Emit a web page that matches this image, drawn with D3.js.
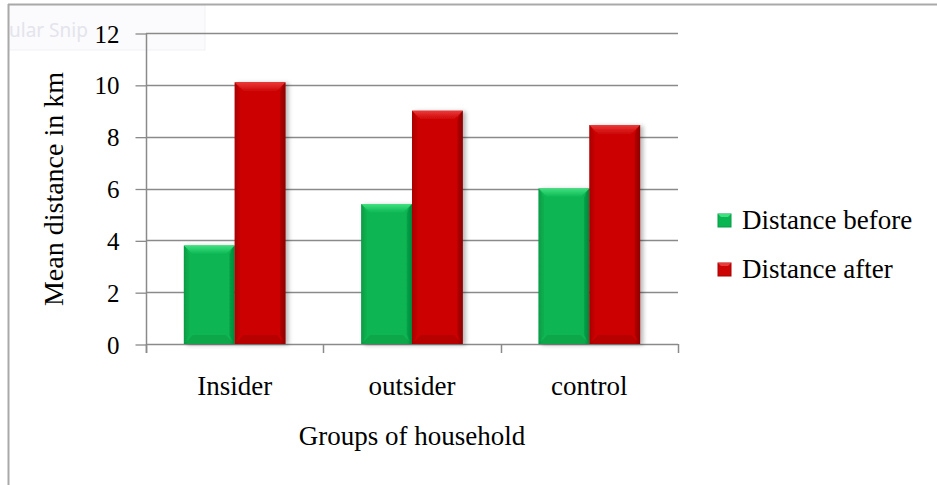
<!DOCTYPE html>
<html>
<head>
<meta charset="utf-8">
<script src="https://cdn.jsdelivr.net/npm/d3@7"></script>
<style>
  html, body { margin: 0; padding: 0; background: #fff; }
  svg { display: block; }
  text { font-family: "Liberation Serif", "Times New Roman", Times, serif; fill: #000; }
</style>
</head>
<body>
<svg id="chart" width="937" height="485"></svg>
<script>
// Mean distance (km) per household group, before and after
const groups = ["Insider", "outsider", "control"];
const seriesNames = ["Distance before", "Distance after"];
const distanceBefore = [3.8, 5.4, 6.0];
const distanceAfter = [10.1, 9.0, 8.45];
const yTicks = [0, 2, 4, 6, 8, 10, 12];

const seriesValues = [distanceBefore, distanceAfter];
const palette = {
  "Distance before": { main: "#0ab652", light: "#3fe07f", dark: "#05893c", edge: "#079a45" },
  "Distance after":  { main: "#cc0404", light: "#ec3a3a", dark: "#8e0202", edge: "#a80303" }
};

const svg = d3.select("#chart");
const defs = svg.append("defs");

// soft shadow cast to the right of each bar
const shadow = defs.append("filter").attr("id", "barShadow")
  .attr("x", "-20%").attr("y", "-5%").attr("width", "150%").attr("height", "110%");
shadow.append("feDropShadow").attr("dx", 3).attr("dy", 1)
  .attr("stdDeviation", 2).attr("flood-color", "#000").attr("flood-opacity", 0.28);

// horizontal shading gradient for bar faces, vertical one for the top bevel
seriesNames.forEach((s, i) => {
  const c = palette[s];
  const g = defs.append("linearGradient").attr("id", "face" + i)
    .attr("x1", "0%").attr("x2", "100%").attr("y1", "0%").attr("y2", "0%");
  g.append("stop").attr("offset", "0%").attr("stop-color", c.edge);
  g.append("stop").attr("offset", "8%").attr("stop-color", c.main);
  g.append("stop").attr("offset", "90%").attr("stop-color", c.main);
  g.append("stop").attr("offset", "100%").attr("stop-color", c.dark);
  const t = defs.append("linearGradient").attr("id", "top" + i)
    .attr("x1", "0%").attr("x2", "0%").attr("y1", "0%").attr("y2", "100%");
  t.append("stop").attr("offset", "0%").attr("stop-color", c.light);
  t.append("stop").attr("offset", "100%").attr("stop-color", c.main);
});

// snipping-tool caption box in the corner
const snip = defs.append("clipPath").attr("id", "snipClip");
snip.append("rect").attr("x", 9).attr("y", 5).attr("width", 196).attr("height", 45);
svg.append("rect").attr("x", 9).attr("y", 5).attr("width", 196).attr("height", 45)
  .attr("fill", "#fbfbfd").attr("stroke", "#f1f1f5");
svg.append("text").attr("clip-path", "url(#snipClip)")
  .attr("x", 9).attr("y", 37)
  .style("font-family", "'Noto Sans', 'DejaVu Sans', sans-serif")
  .style("font-size", "19px").style("fill", "#e4e4ec")
  .text("ular Snip");

// outer frame (top and left edges)
svg.append("line").attr("x1", 8).attr("x2", 937).attr("y1", 4.5).attr("y2", 4.5)
  .attr("stroke", "#a9a9a9").attr("stroke-width", 2);
svg.append("line").attr("x1", 8.5).attr("x2", 8.5).attr("y1", 4).attr("y2", 485)
  .attr("stroke", "#a9a9a9").attr("stroke-width", 2);

// scales
const x0 = d3.scaleBand().domain(groups).range([146, 678]).paddingInner(0).paddingOuter(0);
const x1 = d3.scaleBand().domain(seriesNames).range([0, x0.bandwidth()])
  .paddingInner(0).paddingOuter(0.745);
const y = d3.scaleLinear().domain([0, 12]).range([344, 33]);

const plotLeft = x0.range()[0], plotRight = x0.range()[1];
const axisColor = "#8a8a8a";

// horizontal gridlines
svg.append("g").selectAll("line").data(yTicks.filter(t => t > 0)).join("line")
  .attr("x1", plotLeft).attr("x2", plotRight)
  .attr("y1", d => Math.round(y(d)) + 0.5).attr("y2", d => Math.round(y(d)) + 0.5)
  .attr("stroke", axisColor).attr("stroke-width", 1.3);

// y axis
const yAxis = d3.axisLeft(y).tickValues(yTicks).tickSize(11).tickPadding(16)
  .tickFormat(d3.format("d"));
const yg = svg.append("g").attr("transform", `translate(${plotLeft + 0.5},0.5)`).call(yAxis);
yg.attr("font-family", null);
yg.select(".domain").remove();
yg.selectAll(".tick line").attr("stroke", axisColor).attr("stroke-width", 1.3);
yg.selectAll(".tick text").style("font-family", "'Liberation Serif', 'Times New Roman', serif")
  .style("font-size", "25px").attr("fill", "#000").attr("dy", "0.34em");
svg.append("line").attr("x1", plotLeft + 0.5).attr("x2", plotLeft + 0.5)
  .attr("y1", y(12)).attr("y2", y(0) + 9)
  .attr("stroke", axisColor).attr("stroke-width", 1.5);

// x axis with ticks at group boundaries
const boundaries = groups.map(g => x0(g)).concat([plotRight]);
svg.append("line").attr("x1", plotLeft).attr("x2", plotRight)
  .attr("y1", Math.round(y(0)) + 0.5).attr("y2", Math.round(y(0)) + 0.5)
  .attr("stroke", axisColor).attr("stroke-width", 1.5);
svg.append("g").selectAll("line").data(boundaries).join("line")
  .attr("x1", d => Math.round(d) + 0.5).attr("x2", d => Math.round(d) + 0.5)
  .attr("y1", y(0)).attr("y2", y(0) + 9)
  .attr("stroke", axisColor).attr("stroke-width", 1.5);

// category labels
svg.append("g").selectAll("text").data(groups).join("text")
  .attr("x", d => x0(d) + x0.bandwidth() / 2).attr("y", 395)
  .attr("text-anchor", "middle").style("font-size", "27px")
  .text(d => d);

// axis titles
svg.append("text").attr("x", (plotLeft + plotRight) / 2).attr("y", 445)
  .attr("text-anchor", "middle").style("font-size", "27px")
  .text("Groups of household");
svg.append("text").attr("transform", "translate(63,189) rotate(-90)")
  .attr("text-anchor", "middle").style("font-size", "28px")
  .text("Mean distance in km");

// bevelled bars
function drawBar(sel, x, yTop, w, h, idx) {
  const c = palette[seriesNames[idx]];
  const b = Math.min(9, h / 2);
  const g = sel.append("g").attr("filter", "url(#barShadow)");
  g.append("rect").attr("x", x).attr("y", yTop).attr("width", w).attr("height", h)
    .attr("fill", `url(#face${idx})`);
  // top bevel
  g.append("path").attr("d",
    `M${x},${yTop}L${x + w},${yTop}L${x + w - b},${yTop + b}L${x + b},${yTop + b}Z`)
    .attr("fill", `url(#top${idx})`);
  // bottom bevel
  g.append("path").attr("d",
    `M${x},${yTop + h}L${x + w},${yTop + h}L${x + w - b},${yTop + h - b}L${x + b},${yTop + h - b}Z`)
    .attr("fill", c.dark).attr("opacity", 0.35);
  // side bevels
  g.append("path").attr("d",
    `M${x},${yTop}L${x + b * 0.6},${yTop + b}L${x + b * 0.6},${yTop + h - b}L${x},${yTop + h}Z`)
    .attr("fill", c.edge).attr("opacity", 0.35);
  g.append("path").attr("d",
    `M${x + w},${yTop}L${x + w - b * 0.6},${yTop + b}L${x + w - b * 0.6},${yTop + h - b}L${x + w},${yTop + h}Z`)
    .attr("fill", c.dark).attr("opacity", 0.45);
}

const barsLayer = svg.append("g");
groups.forEach((grp, gi) => {
  seriesNames.forEach((s, si) => {
    const v = seriesValues[si][gi];
    const bx = x0(grp) + x1(s);
    drawBar(barsLayer, bx, y(v), x1.bandwidth(), y(0) - y(v), si);
  });
});

// legend
const legend = svg.append("g");
seriesNames.forEach((s, i) => {
  const ly = 229 + i * 49;
  const c = palette[s];
  legend.append("rect").attr("x", 718).attr("y", ly - 15).attr("width", 13).attr("height", 13)
    .attr("fill", c.main).attr("stroke", c.edge).attr("stroke-width", 1);
  legend.append("path").attr("d", `M718,${ly - 15}L731,${ly - 15}L728,${ly - 12}L721,${ly - 12}Z`)
    .attr("fill", c.light);
  legend.append("text").attr("x", 742).attr("y", ly).style("font-size", "27px").text(s);
});
</script>
</body>
</html>
